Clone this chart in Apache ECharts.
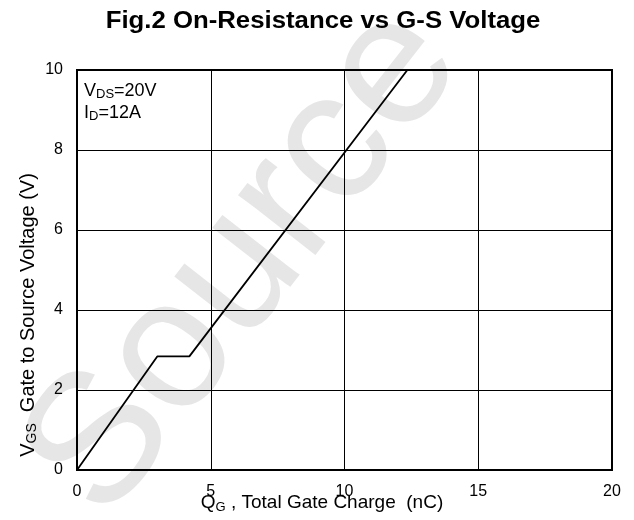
<!DOCTYPE html>
<html>
<head>
<meta charset="utf-8">
<script src="https://cdn.jsdelivr.net/npm/echarts@6/dist/echarts.min.js"></script>
<style>
  html, body { margin: 0; padding: 0; background: #fff; }
  #chart { width: 634px; height: 520px; }
</style>
</head>
<body>
<div id="chart"></div>
<script>
// Gate charge curve (Qg in nC, Vgs in V)
const qg = [0, 3.0, 4.2, 12.35];
const vgs = [0, 2.84, 2.84, 10];
const xTicks = [0, 5, 10, 15, 20];
const yTicks = [0, 2, 4, 6, 8, 10];

const font = "'Liberation Sans', Arial, sans-serif";
const chart = echarts.init(document.getElementById("chart"));

const option = {
  backgroundColor: "#fff",
  animation: false,
  grid: {
    left: 77, right: 22, top: 70, bottom: 50,
    show: true, borderColor: "#000", borderWidth: 2, backgroundColor: "transparent"
  },
  xAxis: {
    type: "value",
    min: xTicks[0], max: xTicks[xTicks.length - 1], interval: 5,
    axisLine: { show: false },
    axisTick: { show: false },
    axisLabel: { margin: 14, color: "#000", fontFamily: font, fontSize: 16 },
    splitLine: { show: true, lineStyle: { color: "#000", width: 1 } }
  },
  yAxis: {
    type: "value",
    min: yTicks[0], max: yTicks[yTicks.length - 1], interval: 2,
    axisLine: { show: false },
    axisTick: { show: false },
    axisLabel: { margin: 14, color: "#000", fontFamily: font, fontSize: 16 },
    splitLine: { show: true, lineStyle: { color: "#000", width: 1 } }
  },
  graphic: [
    // faint watermark behind the plot
    {
      type: "text", z: -10, silent: true,
      x: 245, y: 262, rotation: 52 * Math.PI / 180,
      style: {
        text: "Source", fill: "#e6e6e6", font: "185px " + font,
        textAlign: "center", textVerticalAlign: "middle"
      }
    },
    // title (text in the source is a bit wider than plain Arial)
    {
      type: "text", x: 323, y: 22, scaleX: 1.12,
      style: {
        text: "Fig.2 On-Resistance vs G-S Voltage",
        fill: "#000", font: "bold 23px " + font,
        textAlign: "center", textVerticalAlign: "middle"
      }
    },
    {
      type: "text", x: 84, y: 80,
      style: {
        text: "V{sub|DS}=20V\nI{sub|D}=12A",
        fill: "#000", font: "18px " + font, lineHeight: 22,
        rich: { sub: { fontSize: 13, fontFamily: font, padding: [7, 0, 0, 0] } }
      }
    },
    {
      type: "text", x: 322, y: 503,
      style: {
        text: "Q{sub|G} , Total Gate Charge  (nC)",
        fill: "#000", font: "19px " + font,
        textAlign: "center", textVerticalAlign: "middle",
        rich: { sub: { fontSize: 13, fontFamily: font, padding: [9, 0, 0, 0] } }
      }
    },
    {
      type: "text", x: 28, y: 315, rotation: Math.PI / 2,
      style: {
        text: "V{sub|GS}  Gate to Source Voltage (V)",
        fill: "#000", font: "20px " + font,
        textAlign: "center", textVerticalAlign: "middle",
        rich: { sub: { fontSize: 14, fontFamily: font, padding: [9, 0, 0, 0] } }
      }
    }
  ],
  series: [
    {
      type: "line",
      data: qg.map((q, i) => [q, vgs[i]]),
      showSymbol: false,
      lineStyle: { color: "#000", width: 1.8 },
      z: 5
    }
  ]
};

chart.setOption(option);
</script>
</body>
</html>
